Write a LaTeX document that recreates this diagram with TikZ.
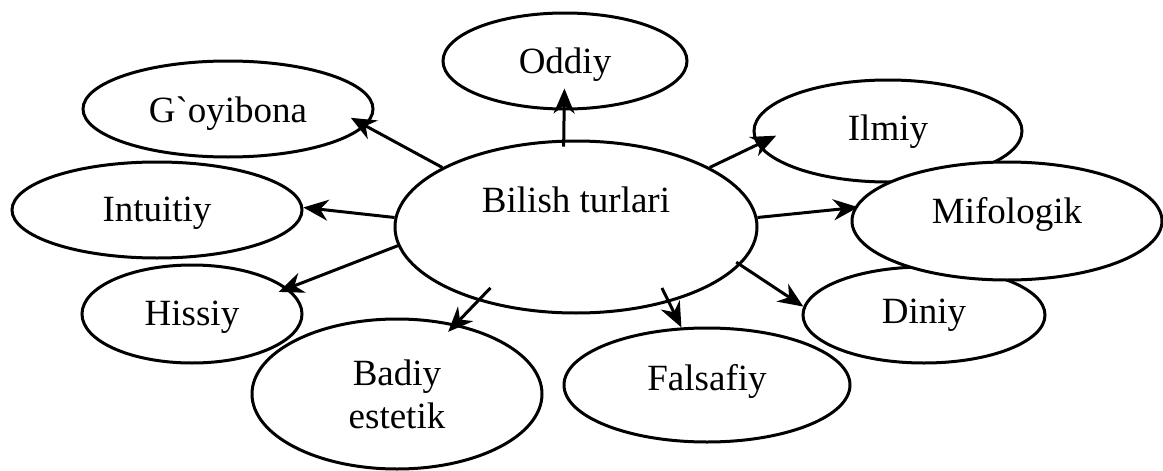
\documentclass[tikz,border=0pt]{standalone}
\usepackage{fontspec}
\setmainfont{Liberation Serif}[Ligatures=TeXOff]
\usetikzlibrary{shapes.geometric,arrows.meta}
\begin{document}
\begin{tikzpicture}[x=1pt,y=-1pt,
  ell/.style={ellipse,draw,fill=white,line width=3pt,inner sep=0pt,
    font=\fontsize{37}{43}\selectfont},
  one/.style={text height=26pt,text depth=#1},
  arr/.style={line width=3pt,-{Stealth[length=25pt,width=21pt,inset=8pt]}}]
\fill[white] (0,0) rectangle (1163,471);
\useasboundingbox (0,0) rectangle (1163,471);
\node[ell,one=56pt,minimum width=362pt,minimum height=172pt] (c) at (576,227) {Bilish turlari};
\node[ell,one=2pt,minimum width=244pt,minimum height=96pt] (odd) at (565,61) {Oddiy};
\node[ell,one=0pt,minimum width=290pt,minimum height=96pt] (goy) at (228,109) {G`oyibona};
\node[ell,one=4pt,minimum width=290pt,minimum height=96pt] (int) at (157,210) {Intuitiy};
\node[ell,one=4pt,minimum width=220pt,minimum height=98pt] (his) at (192,314) {Hissiy};
\node[ell,align=center,minimum width=290pt,minimum height=150pt] (bad) at (397,394) {Badiy\\estetik};
\node[ell,one=16pt,minimum width=286pt,minimum height=114pt] (fal) at (707,385) {Falsafiy};
\node[ell,one=8pt,minimum width=268pt,minimum height=102pt] (ilm) at (888,131) {Ilmiy};
\node[ell,one=10pt,minimum width=242pt,minimum height=96pt] (din) at (924,315) {Diniy};
\node[ell,one=22pt,minimum width=310pt,minimum height=118pt] (mif) at (1007,221) {Mifologik};
\draw[arr,shorten <=-7pt,shorten >=-22pt] (c.98) -- (odd.269);
\draw[arr,shorten >=-17pt] (c.156) -- (goy.353);
\draw[arr] (c.177) -- (int.1);
\draw[arr,shorten >=-10pt] (c.186) -- (his.15);
\draw[arr,shorten <=-18pt,shorten >=-11pt] (c.217) -- (bad.50);
\draw[arr,shorten <=-16pt] (c.321) -- (fal.114);
\draw[arr,shorten <=-5pt] (c.347) -- (din.176);
\draw[arr,shorten >=-4pt] (c.3) -- (mif.175);
\draw[arr,shorten >=-21pt] (c.24) -- (ilm.186);
\end{tikzpicture}
\end{document}
